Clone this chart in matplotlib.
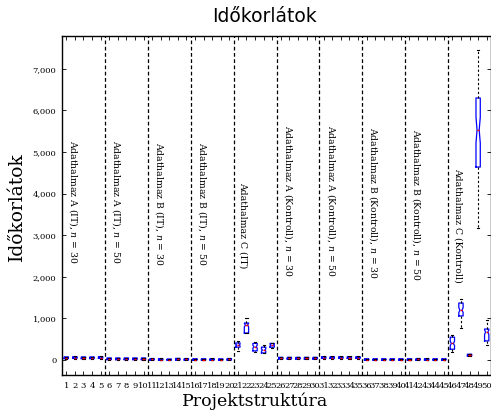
import numpy as np
import matplotlib
matplotlib.use('Agg')
import matplotlib.pyplot as plt
from matplotlib.ticker import FuncFormatter

plt.rcParams['font.family'] = 'DejaVu Serif'
plt.rcParams['mathtext.fontset'] = 'dejavuserif'

positions = list(range(1, 51))
# box statistics per project structure
medians = [55, 60, 55, 55, 60, 30, 30, 30, 30, 30, 15, 12, 5, 20, 15, 10, 10, 12, 8, 15,
           360, 840, 320, 240, 360, 45, 45, 45, 45, 45, 60, 60, 60, 60, 60, 10, 10, 10, 10, 10,
           10, 15, 12, 10, 10, 400, 1200, 120, 5530, 670]
q1 = [35, 40, 35, 35, 40, 10, 10, 10, 10, 10, 0, 0, 0, 0, 0, 0, 0, 0, 0, 0,
      310, 650, 220, 170, 310, 25, 25, 25, 25, 25, 40, 40, 40, 40, 40, 0, 0, 0, 0, 0,
      0, 0, 0, 0, 0, 260, 1060, 100, 4640, 460]
q3 = [75, 80, 75, 75, 80, 50, 50, 50, 50, 50, 35, 32, 25, 40, 35, 30, 30, 32, 28, 35,
      410, 890, 400, 310, 400, 65, 65, 65, 65, 65, 80, 80, 80, 80, 80, 30, 30, 30, 30, 30,
      30, 35, 32, 30, 30, 550, 1370, 140, 6300, 745]
whislo = [30, 35, 30, 30, 35, 5, 5, 5, 5, 5, 0, 0, 0, 0, 0, 0, 0, 0, 0, 0,
          220, 640, 190, 170, 300, 20, 20, 20, 20, 20, 35, 35, 35, 35, 35, 0, 0, 0, 0, 0,
          0, 0, 0, 0, 0, 190, 770, 95, 3170, 360]
whishi = [80, 85, 80, 80, 85, 55, 55, 55, 55, 55, 40, 37, 30, 45, 40, 35, 35, 37, 33, 40,
          460, 1000, 430, 360, 420, 70, 70, 70, 70, 70, 85, 85, 85, 85, 85, 35, 35, 35, 35, 35,
          35, 40, 37, 35, 35, 600, 1470, 150, 7450, 960]
n_obs = 70

group_labels = ['Adathalmaz A (IT), $n$ = 30', 'Adathalmaz A (IT), $n$ = 50',
                'Adathalmaz B (IT), $n$ = 30', 'Adathalmaz B (IT), $n$ = 50',
                'Adathalmaz C (IT)',
                'Adathalmaz A (Kontroll), $n$ = 30', 'Adathalmaz A (Kontroll), $n$ = 50',
                'Adathalmaz B (Kontroll), $n$ = 30', 'Adathalmaz B (Kontroll), $n$ = 50',
                'Adathalmaz C (Kontroll)']
label_top = [5290, 5290, 5250, 5250, 4280, 5650, 5650, 5600, 5560, 4615]
separators = [5.5, 10.5, 15.5, 20.5, 25.5, 30.5, 35.5, 40.5, 45.5]
yticks = [0, 1000, 2000, 3000, 4000, 5000, 6000, 7000]

stats = []
for i in range(50):
    half = 1.57 * (q3[i] - q1[i]) / np.sqrt(n_obs)
    stats.append(dict(med=medians[i], q1=q1[i], q3=q3[i], whislo=whislo[i], whishi=whishi[i],
                      cilo=medians[i] - half, cihi=medians[i] + half, fliers=[]))

fig = plt.figure(figsize=(4.91, 4.2), dpi=100)
ax = fig.add_axes([62 / 491, 45 / 420, (491 - 62) / 491, (375 - 36) / 420])

ax.bxp(stats, positions=positions, widths=0.5, shownotches=True, showfliers=False,
       boxprops=dict(color='blue', lw=0.9),
       medianprops=dict(color='red', lw=1.0),
       whiskerprops=dict(color='black', ls=(0, (2, 2)), lw=0.8),
       capprops=dict(color='black', lw=0.8), capwidths=0.25)

for s in separators:
    ax.axvline(s, color='black', ls=(0, (3, 2)), lw=0.9)

for k, lab in enumerate(group_labels):
    ax.text(5 * k + 1.1, label_top[k], lab, rotation=270, ha='left', va='top', fontsize=6.7)

ax.set_xlim(0.5, 50.5)
ax.set_ylim(-360, 7790)
ax.set_xticks(positions)
ax.set_xticklabels([str(p) for p in positions])
ax.set_yticks(yticks)
ax.yaxis.set_major_formatter(FuncFormatter(lambda v, p: '{:,}'.format(int(v))))
ax.tick_params(direction='in', top=True, right=True, length=3, width=0.6, labelsize=6)
ax.tick_params(axis='x', pad=5)
ax.tick_params(axis='y', pad=4)
for sp in ax.spines.values():
    sp.set_linewidth(1.0)

fig.text(265 / 491, 1 - 16 / 420, 'Időkorlátok', ha='center', va='center',
         fontsize=13.5, family='DejaVu Sans')
fig.text(255 / 491, 1 - 401 / 420, 'Projektstruktúra', ha='center', va='center', fontsize=12.5)
fig.text(17 / 491, 1 - 207 / 420, 'Időkorlátok', ha='center', va='center', rotation=90,
         fontsize=13.5)

fig.savefig('out.png', dpi=100)
